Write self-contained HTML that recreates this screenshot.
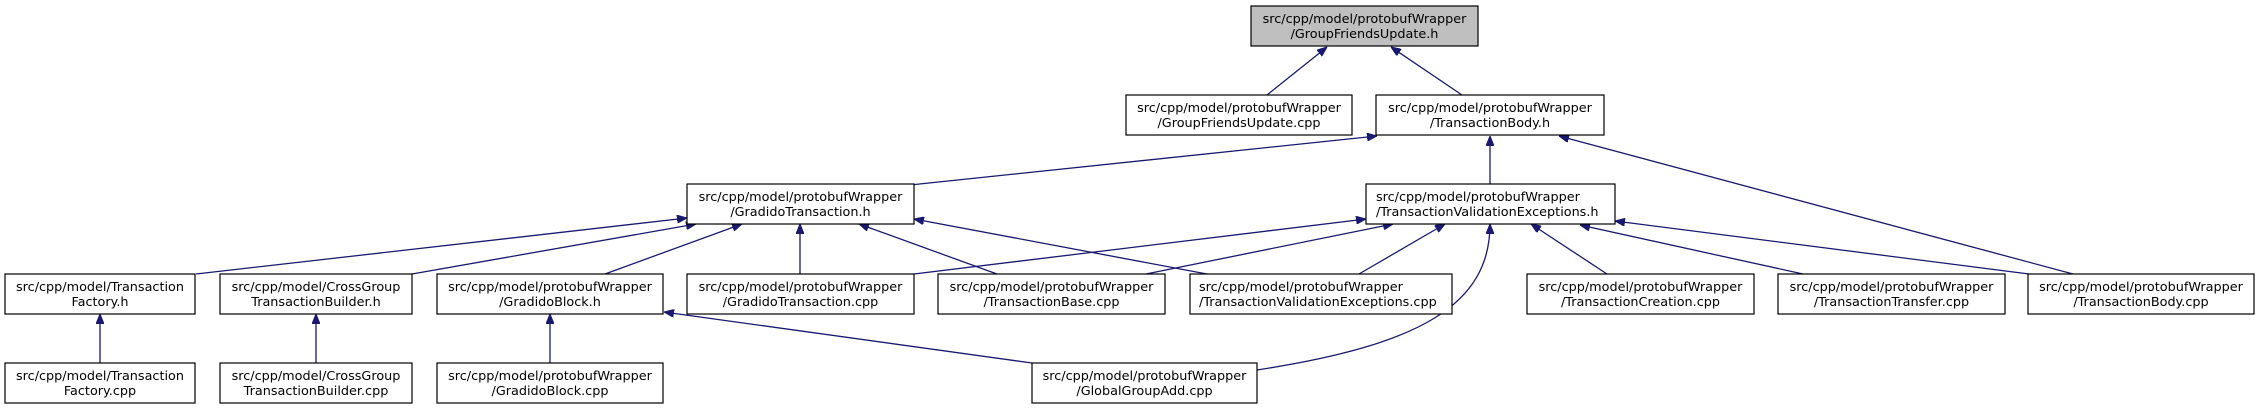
<!DOCTYPE html>
<html><head><meta charset="utf-8"><style>
html,body{margin:0;padding:0;background:#fff;}
svg{display:block;}
text{font-family:"DejaVu Sans","Liberation Sans",sans-serif;font-size:12.8px;fill:#000;}
rect{fill:#fff;stroke:#000;stroke-width:1.2;}
.e{fill:none;stroke:#191970;stroke-width:1.3;}
</style></head><body>
<svg width="2261" height="409" viewBox="0 0 2261 409" xmlns="http://www.w3.org/2000/svg">
<defs>
<marker id="a" viewBox="0 0 10 8" refX="10" refY="4" markerWidth="10" markerHeight="8" markerUnits="userSpaceOnUse" orient="auto">
<path d="M0,0 L10,4 L0,8 z" fill="#191970" stroke="#191970"/>
</marker>
</defs>
<g class="edges">
<path class="e" marker-end="url(#a)" d="M1267,95 L1327,47"/>
<path class="e" marker-end="url(#a)" d="M1462,95 L1391,47"/>
<path class="e" marker-end="url(#a)" d="M910,185 L1377,136"/>
<path class="e" marker-end="url(#a)" d="M1490,184 L1490,136"/>
<path class="e" marker-end="url(#a)" d="M2073,274 L1559,136"/>
<path class="e" marker-end="url(#a)" d="M196,274 L687,218"/>
<path class="e" marker-end="url(#a)" d="M412,274 L696,224"/>
<path class="e" marker-end="url(#a)" d="M605,274 L742,224"/>
<path class="e" marker-end="url(#a)" d="M800,274 L800,224"/>
<path class="e" marker-end="url(#a)" d="M997,274 L859,224"/>
<path class="e" marker-end="url(#a)" d="M1207,274 L914,219"/>
<path class="e" marker-end="url(#a)" d="M914,274 L1366,219"/>
<path class="e" marker-end="url(#a)" d="M1146,274 L1393,224"/>
<path class="e" marker-end="url(#a)" d="M1359,274 L1445,224"/>
<path class="e" marker-end="url(#a)" d="M1257,370 C1420,345 1490,305 1490,224"/>
<path class="e" marker-end="url(#a)" d="M1607,274 L1531,224"/>
<path class="e" marker-end="url(#a)" d="M1803,274 L1580,225"/>
<path class="e" marker-end="url(#a)" d="M2029,274 L1615,221"/>
<path class="e" marker-end="url(#a)" d="M100,363 L100,314"/>
<path class="e" marker-end="url(#a)" d="M316,363 L316,314"/>
<path class="e" marker-end="url(#a)" d="M550,363 L550,314"/>
<path class="e" marker-end="url(#a)" d="M1032,363 L664,312"/>
</g>
<g>
<rect x="1251" y="6" width="227" height="40" style="fill:#bfbfbf"/>
<text x="1364.5" y="23" text-anchor="middle">src/cpp/model/protobufWrapper</text>
<text x="1364.5" y="38" text-anchor="middle">/GroupFriendsUpdate.h</text>

<rect x="1126" y="95" width="226" height="40"/>
<text x="1239" y="112" text-anchor="middle">src/cpp/model/protobufWrapper</text>
<text x="1239" y="127" text-anchor="middle">/GroupFriendsUpdate.cpp</text>

<rect x="1376" y="95" width="228" height="40"/>
<text x="1490" y="112" text-anchor="middle">src/cpp/model/protobufWrapper</text>
<text x="1490" y="127" text-anchor="middle">/TransactionBody.h</text>

<rect x="687" y="184" width="227" height="40"/>
<text x="800.5" y="201" text-anchor="middle">src/cpp/model/protobufWrapper</text>
<text x="800.5" y="216" text-anchor="middle">/GradidoTransaction.h</text>

<rect x="1366" y="184" width="249" height="40"/>
<text x="1376" y="201">src/cpp/model/protobufWrapper</text>
<text x="1376" y="216">/TransactionValidationExceptions.h</text>

<rect x="5" y="274" width="190" height="40"/>
<text x="100" y="291" text-anchor="middle">src/cpp/model/Transaction</text>
<text x="100" y="306" text-anchor="middle">Factory.h</text>

<rect x="220" y="274" width="192" height="40"/>
<text x="316" y="291" text-anchor="middle">src/cpp/model/CrossGroup</text>
<text x="316" y="306" text-anchor="middle">TransactionBuilder.h</text>

<rect x="437" y="274" width="226" height="40"/>
<text x="550" y="291" text-anchor="middle">src/cpp/model/protobufWrapper</text>
<text x="550" y="306" text-anchor="middle">/GradidoBlock.h</text>

<rect x="687" y="274" width="227" height="40"/>
<text x="800.5" y="291" text-anchor="middle">src/cpp/model/protobufWrapper</text>
<text x="800.5" y="306" text-anchor="middle">/GradidoTransaction.cpp</text>

<rect x="938" y="274" width="227" height="40"/>
<text x="1051.5" y="291" text-anchor="middle">src/cpp/model/protobufWrapper</text>
<text x="1051.5" y="306" text-anchor="middle">/TransactionBase.cpp</text>

<rect x="1190" y="274" width="262" height="40"/>
<text x="1199" y="291">src/cpp/model/protobufWrapper</text>
<text x="1199" y="306">/TransactionValidationExceptions.cpp</text>

<rect x="1527" y="274" width="227" height="40"/>
<text x="1640.5" y="291" text-anchor="middle">src/cpp/model/protobufWrapper</text>
<text x="1640.5" y="306" text-anchor="middle">/TransactionCreation.cpp</text>

<rect x="1778" y="274" width="227" height="40"/>
<text x="1891.5" y="291" text-anchor="middle">src/cpp/model/protobufWrapper</text>
<text x="1891.5" y="306" text-anchor="middle">/TransactionTransfer.cpp</text>

<rect x="2028" y="274" width="226" height="40"/>
<text x="2141" y="291" text-anchor="middle">src/cpp/model/protobufWrapper</text>
<text x="2141" y="306" text-anchor="middle">/TransactionBody.cpp</text>

<rect x="5" y="363" width="190" height="40"/>
<text x="100" y="380" text-anchor="middle">src/cpp/model/Transaction</text>
<text x="100" y="395" text-anchor="middle">Factory.cpp</text>

<rect x="220" y="363" width="192" height="40"/>
<text x="316" y="380" text-anchor="middle">src/cpp/model/CrossGroup</text>
<text x="316" y="395" text-anchor="middle">TransactionBuilder.cpp</text>

<rect x="437" y="363" width="226" height="40"/>
<text x="550" y="380" text-anchor="middle">src/cpp/model/protobufWrapper</text>
<text x="550" y="395" text-anchor="middle">/GradidoBlock.cpp</text>

<rect x="1032" y="363" width="225" height="40"/>
<text x="1144.5" y="380" text-anchor="middle">src/cpp/model/protobufWrapper</text>
<text x="1144.5" y="395" text-anchor="middle">/GlobalGroupAdd.cpp</text>
</g>
</svg>
</body></html>
